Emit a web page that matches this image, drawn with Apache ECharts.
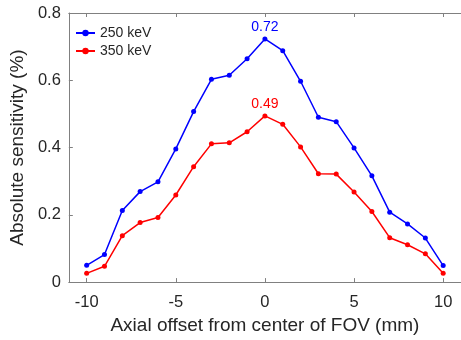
<!DOCTYPE html>
<html><head><meta charset="utf-8">
<script src="https://cdn.jsdelivr.net/npm/echarts@6/dist/echarts.min.js"></script>
<style>html,body{margin:0;padding:0;background:#fff}#c{width:461px;height:340px}</style>
</head><body><div id="c"></div>
<script>
const xValues = [-10,-9,-8,-7,-6,-5,-4,-3,-2,-1,0,1,2,3,4,5,6,7,8,9,10];
const kev250 = [0.050,0.082,0.213,0.269,0.298,0.396,0.507,0.603,0.615,0.664,0.723,0.688,0.597,0.490,0.477,0.399,0.316,0.208,0.173,0.131,0.049];
const kev350 = [0.026,0.047,0.138,0.177,0.192,0.259,0.343,0.411,0.414,0.447,0.494,0.469,0.402,0.322,0.321,0.268,0.210,0.132,0.111,0.084,0.026];
const xTicks = [-10,-5,0,5,10];
const yTicks = [0,0.2,0.4,0.6,0.8];
const peakLabels = {'250 keV':'0.72','350 keV':'0.49'};

const font = 'Liberation Sans, Arial, Helvetica, sans-serif';
const axisCol = '#808080';
const textCol = '#262626';
const chart = echarts.init(document.getElementById('c'), null, {renderer:'canvas'});
function mk(name, vals, color){
  return {
    name, type:'line', data: xValues.map((x,i)=>[x, vals[i]]),
    symbol:'circle', symbolSize:5, color,
    lineStyle:{width:1.5,color}, itemStyle:{color},
    label:{show:true, position:'top', distance:2, color, fontFamily:font, fontSize:14,
      formatter:p=> p.value[0]===0 ? peakLabels[name] : ''},
    emphasis:{disabled:true}, animation:false
  };
}
chart.setOption({
  animation:false,
  grid:{left:66,right:-9,top:13,bottom:56},
  legend:{left:75,top:26,padding:0,orient:'vertical',itemWidth:19,itemHeight:8,itemGap:4,
    textStyle:{fontFamily:font,fontSize:14,color:textCol},data:['250 keV','350 keV']},
  xAxis:[{type:'value',min:-11,max:11,position:'bottom',
    name:'Axial offset from center of FOV (mm)',nameLocation:'middle',nameGap:32,
    nameTextStyle:{fontFamily:font,fontSize:19,color:textCol},
    axisLine:{onZero:false,lineStyle:{color:axisCol,width:1}},
    axisTick:{inside:true,length:4,customValues:xTicks,lineStyle:{color:axisCol}},
    axisLabel:{customValues:xTicks,fontFamily:font,fontSize:16.5,color:textCol,margin:12},
    splitLine:{show:false}},
   {type:'value',min:-11,max:11,position:'top',
    axisLine:{onZero:false,lineStyle:{color:axisCol,width:1}},
    axisTick:{inside:true,length:4,customValues:xTicks,lineStyle:{color:axisCol}},
    axisLabel:{show:false},splitLine:{show:false}}],
  yAxis:{type:'value',min:0,max:0.8,interval:0.2,
    name:'Absolute sensitivity (%)',nameLocation:'middle',nameGap:31,
    nameTextStyle:{fontFamily:font,fontSize:19,color:textCol},
    axisLine:{show:true,onZero:false,lineStyle:{color:axisCol,width:1}},
    axisTick:{show:true,inside:true,length:4,lineStyle:{color:axisCol}},
    axisLabel:{fontFamily:font,fontSize:16.5,color:textCol,margin:8,
      formatter:v=>yTicks.includes(+v.toFixed(1))? String(+v.toFixed(1)) : ''},
    splitLine:{show:false}},
  series:[mk('250 keV',kev250,'#0000ff'), mk('350 keV',kev350,'#ff0000')]
});
</script></body></html>
